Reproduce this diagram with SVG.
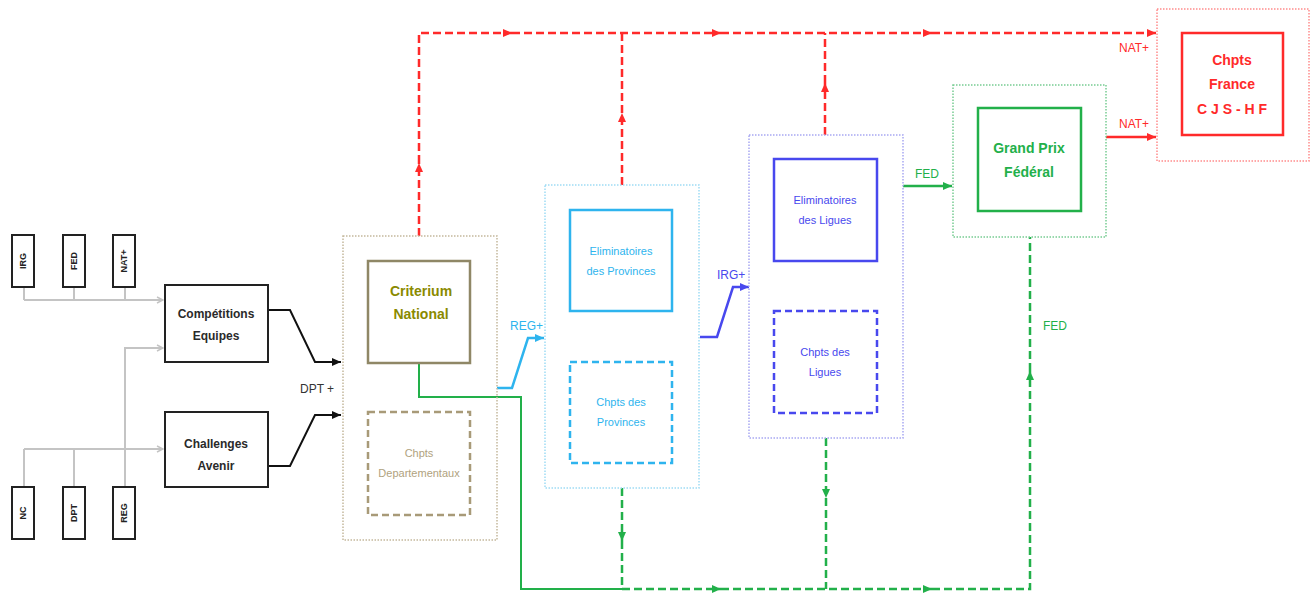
<svg xmlns="http://www.w3.org/2000/svg" width="1314" height="593" viewBox="0 0 1314 593">
<style>
text{font-family:"Liberation Sans",Arial,sans-serif;text-anchor:middle}
.sm{font-size:9px;font-weight:bold;fill:#222}
.bk{font-size:12px;font-weight:bold;fill:#2a2a2a}
.crit{font-size:14px;font-weight:bold;fill:#8a8a00}
.dep{font-size:11px;fill:#b0a27e}
.cy{font-size:11px;fill:#2eb4ee}
.bl{font-size:11px;fill:#4848ee}
.gr{font-size:14px;font-weight:bold;fill:#22b04a}
.rd{font-size:14px;font-weight:bold;fill:#ff2a2a}
.lblc{font-size:12px;fill:#2eb4ee;text-anchor:start}
.lblb{font-size:12px;fill:#4848ee;text-anchor:start}
.lblg{font-size:12px;fill:#22b04a;text-anchor:start}
.lblr{font-size:12px;fill:#ff2a2a;text-anchor:start}
.lbld{font-size:12px;fill:#333;text-anchor:start}
.small{fill:#fff;stroke:#222;stroke-width:2}
.main{fill:#fff;stroke:#222;stroke-width:2}
.gl{fill:none;stroke:#c4c4c4;stroke-width:2}
.blk{fill:none;stroke:#111;stroke-width:2}
.rdd{fill:none;stroke:#ff2a2a;stroke-width:2.5;stroke-dasharray:8,4}
.grd{fill:none;stroke:#22b04a;stroke-width:2.5;stroke-dasharray:8,4}
</style>
<defs>
<marker id="ag" markerWidth="8" markerHeight="8" refX="7" refY="4" orient="auto" markerUnits="userSpaceOnUse"><path d="M1,1 L7,4 L1,7" fill="none" stroke="#c4c4c4" stroke-width="1.5"/></marker>
<marker id="ak" markerWidth="10" markerHeight="10" refX="9" refY="5" orient="auto" markerUnits="userSpaceOnUse"><path d="M0,1 L9,5 L0,9 Z" fill="#111"/></marker>
<marker id="ac" markerWidth="10" markerHeight="10" refX="9" refY="5" orient="auto" markerUnits="userSpaceOnUse"><path d="M0,1 L9,5 L0,9 Z" fill="#2eb4ee"/></marker>
<marker id="ab" markerWidth="10" markerHeight="10" refX="9" refY="5" orient="auto" markerUnits="userSpaceOnUse"><path d="M0,1 L9,5 L0,9 Z" fill="#4848ee"/></marker>
<marker id="agr" markerWidth="10" markerHeight="10" refX="9" refY="5" orient="auto" markerUnits="userSpaceOnUse"><path d="M0,1 L9,5 L0,9 Z" fill="#22b04a"/></marker>
<marker id="ar" markerWidth="10" markerHeight="10" refX="9" refY="5" orient="auto" markerUnits="userSpaceOnUse"><path d="M0,1 L9,5 L0,9 Z" fill="#ff2a2a"/></marker>
</defs>

<g id="connectors">
<!-- gray inputs -->
<path class="gl" d="M24,287 V300 M74,287 V300 M125,287 V300"/>
<path class="gl" d="M24,300 H163" marker-end="url(#ag)"/>
<path class="gl" d="M125,487 V348 H163" marker-end="url(#ag)"/>
<path class="gl" d="M24,487 V449 M74,487 V449"/>
<path class="gl" d="M24,449 H163" marker-end="url(#ag)"/>
<!-- black -->
<path class="blk" d="M268,310 H290 L315,362 H341" marker-end="url(#ak)"/>
<path class="blk" d="M268,466 H290 L315,415 H341" marker-end="url(#ak)"/>
<!-- REG+ / IRG+ / FED / NAT+ -->
<path fill="none" stroke="#2eb4ee" stroke-width="2.5" d="M497,388 H512 L528,338 H544" marker-end="url(#ac)"/>
<path fill="none" stroke="#4848ee" stroke-width="2.5" d="M700,337 H717 L733,287 H749" marker-end="url(#ab)"/>
<path fill="none" stroke="#22b04a" stroke-width="2.5" d="M903,186 H952" marker-end="url(#agr)"/>
<path fill="none" stroke="#ff2a2a" stroke-width="2.5" d="M1106,137 H1156" marker-end="url(#ar)"/>
<!-- red dashed top network -->
<path class="rdd" d="M419,236 V163" marker-end="url(#ar)"/>
<path class="rdd" d="M419,163 V33 H512" marker-end="url(#ar)"/>
<path class="rdd" d="M512,33 H721" marker-end="url(#ar)"/>
<path class="rdd" d="M721,33 H932" marker-end="url(#ar)"/>
<path class="rdd" d="M932,33 H1156" marker-end="url(#ar)"/>
<path class="rdd" d="M622,185 V113" marker-end="url(#ar)"/>
<path class="rdd" d="M622,113 V33"/>
<path class="rdd" d="M825,135 V83" marker-end="url(#ar)"/>
<path class="rdd" d="M825,83 V33"/>
<!-- green -->
<path fill="none" stroke="#22b04a" stroke-width="2" d="M419,363 V397 H521 V589 H622"/>
<path class="grd" d="M622,488 V541" marker-end="url(#agr)"/>
<path class="grd" d="M622,541 V589 H721" marker-end="url(#agr)"/>
<path class="grd" d="M721,589 H932" marker-end="url(#agr)"/>
<path class="grd" d="M932,589 H1030 V371" marker-end="url(#agr)"/>
<path class="grd" d="M1030,371 V237"/>
<path class="grd" d="M826,438 V498" marker-end="url(#agr)"/>
<path class="grd" d="M826,498 V589"/>
<!-- labels -->
<text class="lbld" x="300" y="393">DPT +</text>
<text class="lblc" x="510" y="330">REG+</text>
<text class="lblb" x="717" y="279">IRG+</text>
<text class="lblg" x="915" y="178">FED</text>
<text class="lblg" x="1043" y="330">FED</text>
<text class="lblr" x="1119" y="52">NAT+</text>
<text class="lblr" x="1119" y="128">NAT+</text>
</g>

<g id="irg"><rect class="small" x="12" y="235" width="22" height="52"/><text class="sm" transform="translate(26,261) rotate(-90)">IRG</text></g>
<g id="fed"><rect class="small" x="63" y="235" width="22" height="52"/><text class="sm" transform="translate(77,261) rotate(-90)">FED</text></g>
<g id="nat"><rect class="small" x="113" y="235" width="22" height="52"/><text class="sm" transform="translate(127,261) rotate(-90)">NAT+</text></g>
<g id="nc"><rect class="small" x="12" y="487" width="22" height="52"/><text class="sm" transform="translate(26,513) rotate(-90)">NC</text></g>
<g id="dpt"><rect class="small" x="63" y="487" width="22" height="52"/><text class="sm" transform="translate(77,513) rotate(-90)">DPT</text></g>
<g id="reg"><rect class="small" x="113" y="487" width="22" height="52"/><text class="sm" transform="translate(127,513) rotate(-90)">REG</text></g>

<g id="competitions"><rect class="main" x="165" y="285" width="103" height="77"/><text class="bk" x="216" y="318">Compétitions</text><text class="bk" x="216" y="340">Equipes</text></g>
<g id="challenges"><rect class="main" x="165" y="412" width="103" height="75"/><text class="bk" x="216" y="448" fill="#1a2a44">Challenges</text><text class="bk" x="216" y="470">Avenir</text></g>

<g id="departemental">
<rect x="343" y="236" width="154" height="304" fill="none" stroke="#c4b89c" stroke-width="1.5" stroke-dasharray="1.5,1.5"/>
<g id="criterium"><rect x="368" y="261" width="102" height="102" fill="#fff" stroke="#8f8766" stroke-width="2.5"/><text class="crit" x="421" y="296">Criterium</text><text class="crit" x="421" y="319">National</text></g>
<g id="chpts-dep"><rect x="368" y="412" width="102" height="103" fill="#fff" stroke="#a89a78" stroke-width="2.5" stroke-dasharray="7,4"/><text class="dep" x="419" y="457">Chpts</text><text class="dep" x="419" y="477">Departementaux</text></g>
</g>

<g id="provinces">
<rect x="545" y="185" width="154" height="303" fill="none" stroke="#9fdcf5" stroke-width="1.5" stroke-dasharray="1.5,1.5"/>
<g id="elim-prov"><rect x="570" y="210" width="102" height="101" fill="#fff" stroke="#2eb4ee" stroke-width="2.5"/><text class="cy" x="621" y="255">Eliminatoires</text><text class="cy" x="621" y="275">des Provinces</text></g>
<g id="chpts-prov"><rect x="570" y="362" width="102" height="101" fill="#fff" stroke="#2eb4ee" stroke-width="2.5" stroke-dasharray="7,4"/><text class="cy" x="621" y="406">Chpts des</text><text class="cy" x="621" y="426">Provinces</text></g>
</g>

<g id="ligues">
<rect x="749" y="135" width="154" height="303" fill="none" stroke="#a8a8f2" stroke-width="1.5" stroke-dasharray="1.5,1.5"/>
<g id="elim-lig"><rect x="774" y="159" width="103" height="102" fill="#fff" stroke="#4848ee" stroke-width="2.5"/><text class="bl" x="825" y="204">Eliminatoires</text><text class="bl" x="825" y="224">des Ligues</text></g>
<g id="chpts-lig"><rect x="774" y="311" width="103" height="102" fill="#fff" stroke="#4848ee" stroke-width="2.5" stroke-dasharray="7,4"/><text class="bl" x="825" y="356">Chpts des</text><text class="bl" x="825" y="376">Ligues</text></g>
</g>

<g id="federal">
<rect x="953" y="85" width="153" height="152" fill="none" stroke="#77cc92" stroke-width="1.5" stroke-dasharray="1.5,1.5"/>
<g id="grand-prix"><rect x="978" y="108" width="103" height="103" fill="#fff" stroke="#22b04a" stroke-width="2.5"/><text class="gr" x="1029" y="153">Grand Prix</text><text class="gr" x="1029" y="177">Fédéral</text></g>
</g>

<g id="national">
<rect x="1157" y="9" width="152" height="152" fill="none" stroke="#ff8c8c" stroke-width="1.5" stroke-dasharray="1.5,1.5"/>
<g id="france"><rect x="1182" y="33" width="101" height="102" fill="#fff" stroke="#ff2a2a" stroke-width="2.5"/><text class="rd" x="1232" y="65">Chpts</text><text class="rd" x="1232" y="89">France</text><text class="rd" x="1232" y="114">C J S - H F</text></g>
</g>
</svg>
